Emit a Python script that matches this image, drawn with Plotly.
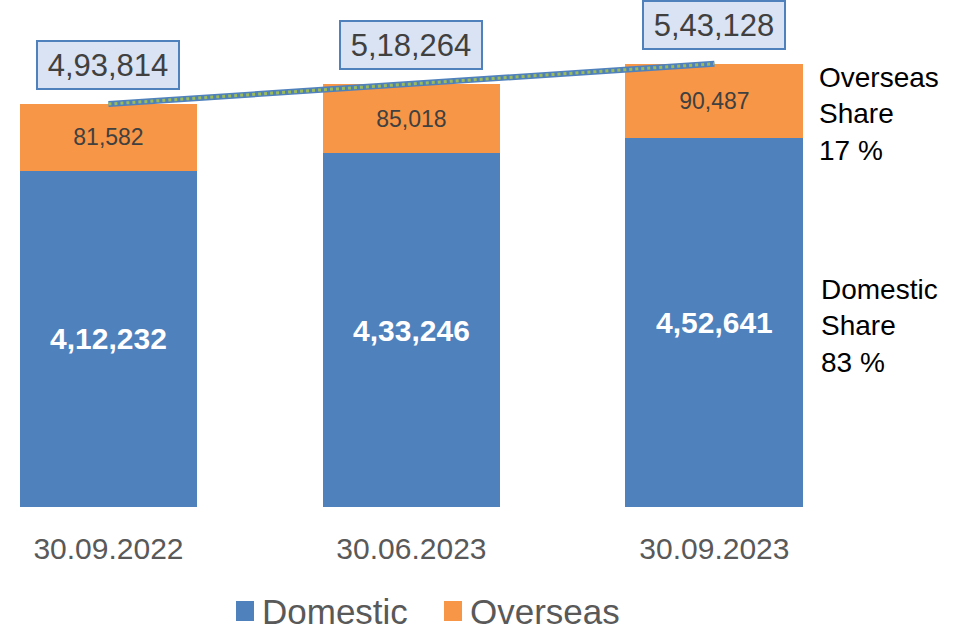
import plotly.graph_objects as go

categories = ["30.09.2022", "30.06.2023", "30.09.2023"]
domestic = [412232, 433246, 452641]
overseas = [81582, 85018, 90487]
totals = [493814, 518264, 543128]
series_names = ["Domestic", "Overseas"]
series_colors = ["#4F81BD", "#F79646"]


def indian(n):
    s = str(int(n))
    if len(s) <= 3:
        return s
    last3 = s[-3:]
    rest = s[:-3]
    parts = []
    while len(rest) > 2:
        parts.insert(0, rest[-2:])
        rest = rest[:-2]
    if rest:
        parts.insert(0, rest)
    return ",".join(parts) + "," + last3


xs = list(range(len(categories)))
W, H = 958, 630
plot_h = 507
FONT = "Liberation Sans, Arial"

fig = go.Figure()
fig.add_trace(go.Bar(
    x=xs, y=domestic, name=series_names[0], width=0.587,
    marker=dict(color=series_colors[0], line=dict(width=0)),
    text=[indian(v) for v in domestic], textposition="inside",
    insidetextanchor="middle",
    textfont=dict(family=FONT, size=30, color="white", weight="bold"),
    hoverinfo="skip", showlegend=False,
))
fig.add_trace(go.Bar(
    x=xs, y=overseas, name=series_names[1], width=0.587,
    marker=dict(color=series_colors[1], line=dict(width=0)),
    text=[indian(v) for v in overseas], textposition="inside",
    insidetextanchor="middle",
    textfont=dict(family=FONT, size=23, color="#404040"),
    hoverinfo="skip", showlegend=False,
))
fig.add_trace(go.Scatter(
    x=xs, y=totals, mode="lines", line=dict(color="#4F81BD", width=6),
    showlegend=False, hoverinfo="skip",
))
fig.add_trace(go.Scatter(
    x=xs, y=totals, mode="lines", line=dict(color="#9BBB59", width=3, dash="dot"),
    showlegend=False, hoverinfo="skip",
))

for x, t in zip(xs, totals):
    fig.add_annotation(
        x=x, y=t, xref="x", yref="y", text=indian(t), showarrow=False,
        yshift=39, font=dict(family=FONT, size=31, color="#404040"),
        bgcolor="#DAE3F3", bordercolor="#4F81BD", borderwidth=2,
        width=138, height=44,
    )

ov_share = round(overseas[-1] / totals[-1] * 100)
dom_share = 100 - ov_share
fig.add_annotation(
    x=817 / W, y=1 - 114 / plot_h, xref="paper", yref="paper", xanchor="left", yanchor="middle",
    text=f"Overseas<br>Share<br>{ov_share} %", showarrow=False, align="left",
    font=dict(family=FONT, size=28, color="black"),
)
fig.add_annotation(
    x=819 / W, y=1 - 326 / plot_h, xref="paper", yref="paper", xanchor="left", yanchor="middle",
    text=f"Domestic<br>Share<br>{dom_share} %", showarrow=False, align="left",
    font=dict(family=FONT, size=28, color="black"),
)

# manual legend
legend_sq_x = [236, 444]
legend_y = 611
for name, col, sx in zip(series_names, series_colors, legend_sq_x):
    fig.add_shape(type="rect", xref="paper", yref="paper",
                  x0=sx / W, x1=(sx + 18) / W,
                  y0=(plot_h - (legend_y + 10)) / plot_h, y1=(plot_h - (legend_y - 10)) / plot_h,
                  fillcolor=col, line=dict(width=0))
    fig.add_annotation(x=(sx + 24) / W, y=(plot_h - legend_y) / plot_h, xref="paper", yref="paper",
                       xanchor="left", yanchor="middle", text=name, showarrow=False,
                       font=dict(family=FONT, size=35, color="#595959"))

fig.update_layout(
    barmode="stack",
    width=W, height=H,
    margin=dict(l=0, r=0, t=0, b=H - plot_h, autoexpand=False),
    paper_bgcolor="white", plot_bgcolor="white",
    showlegend=False,
    xaxis=dict(range=[-0.358, 2.804], tickvals=xs, ticktext=categories, showgrid=False,
               zeroline=False, showline=False, ticks="", ticklabelstandoff=21,
               tickfont=dict(family=FONT, size=30, color="#595959")),
    yaxis=dict(range=[0, 621300], visible=False),
)

fig.write_html("out.html", config={"displayModeBar": False},
               post_script="document.body.style.margin='0';document.body.style.overflow='hidden';")
